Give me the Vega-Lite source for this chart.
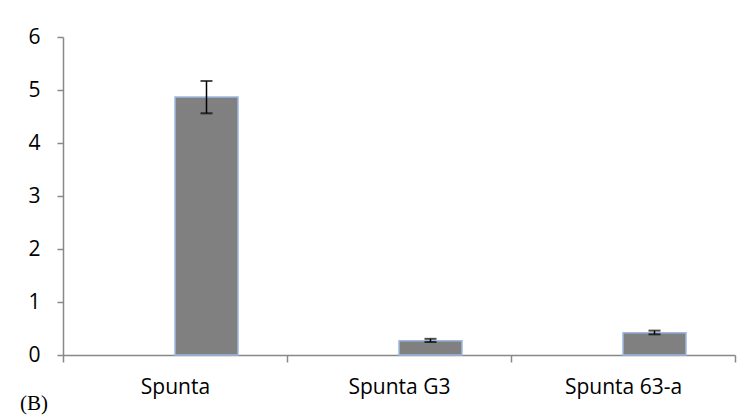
{
  "$schema": "https://vega.github.io/schema/vega-lite/v6.json",
  "width": 672,
  "height": 318,
  "autosize": {"type": "none"},
  "padding": {"left": 63, "top": 37, "right": 19, "bottom": 64},
  "background": "white",
  "config": {"view": {"stroke": null}, "font": "Open Sans"},
  "title": {
    "text": "(B)",
    "orient": "bottom",
    "anchor": "start",
    "frame": "bounds",
    "font": "Liberation Serif",
    "fontSize": 21,
    "fontWeight": "normal",
    "color": "black",
    "offset": -4,
    "dx": -8
  },
  "data": {
    "values": [
      {"variety": "Spunta", "series": "b", "mean": 4.87, "lo": 4.56, "hi": 5.17},
      {"variety": "Spunta G3", "series": "b", "mean": 0.27, "lo": 0.245, "hi": 0.305},
      {"variety": "Spunta 63-a", "series": "b", "mean": 0.42, "lo": 0.39, "hi": 0.46}
    ]
  },
  "encoding": {
    "x": {
      "field": "variety",
      "type": "nominal",
      "sort": null,
      "scale": {"paddingInner": 0, "paddingOuter": 0},
      "axis": {
        "title": null,
        "labelAngle": 0,
        "labelFontSize": 21,
        "labelColor": "black",
        "labelPadding": 14,
        "domainColor": "#888888",
        "domainWidth": 1.5,
        "tickColor": "#888888",
        "tickWidth": 1.5,
        "tickSize": 7,
        "tickBand": "extent"
      }
    },
    "xOffset": {
      "field": "series",
      "type": "nominal",
      "scale": {"domain": ["a", "b"], "paddingInner": 0, "paddingOuter": 0.7778}
    }
  },
  "layer": [
    {
      "mark": {"type": "bar", "fill": "#808080", "stroke": "#9DB8E2", "strokeWidth": 1.5},
      "encoding": {
        "y": {
          "field": "mean",
          "type": "quantitative",
          "scale": {"domain": [0, 6], "nice": false},
          "axis": {
            "title": null,
            "values": [0, 1, 2, 3, 4, 5, 6],
            "grid": false,
            "labelFontSize": 21,
            "labelColor": "black",
            "labelPadding": 17,
            "domainColor": "#888888",
            "domainWidth": 1.5,
            "tickColor": "#888888",
            "tickWidth": 1.5,
            "tickSize": 6
          }
        }
      }
    },
    {
      "mark": {"type": "rule", "color": "black", "strokeWidth": 1.5},
      "encoding": {
        "y": {"field": "lo", "type": "quantitative"},
        "y2": {"field": "hi"}
      }
    },
    {
      "mark": {"type": "tick", "color": "black", "size": 12, "thickness": 2},
      "encoding": {"y": {"field": "lo", "type": "quantitative"}}
    },
    {
      "mark": {"type": "tick", "color": "black", "size": 12, "thickness": 2},
      "encoding": {"y": {"field": "hi", "type": "quantitative"}}
    }
  ]
}
